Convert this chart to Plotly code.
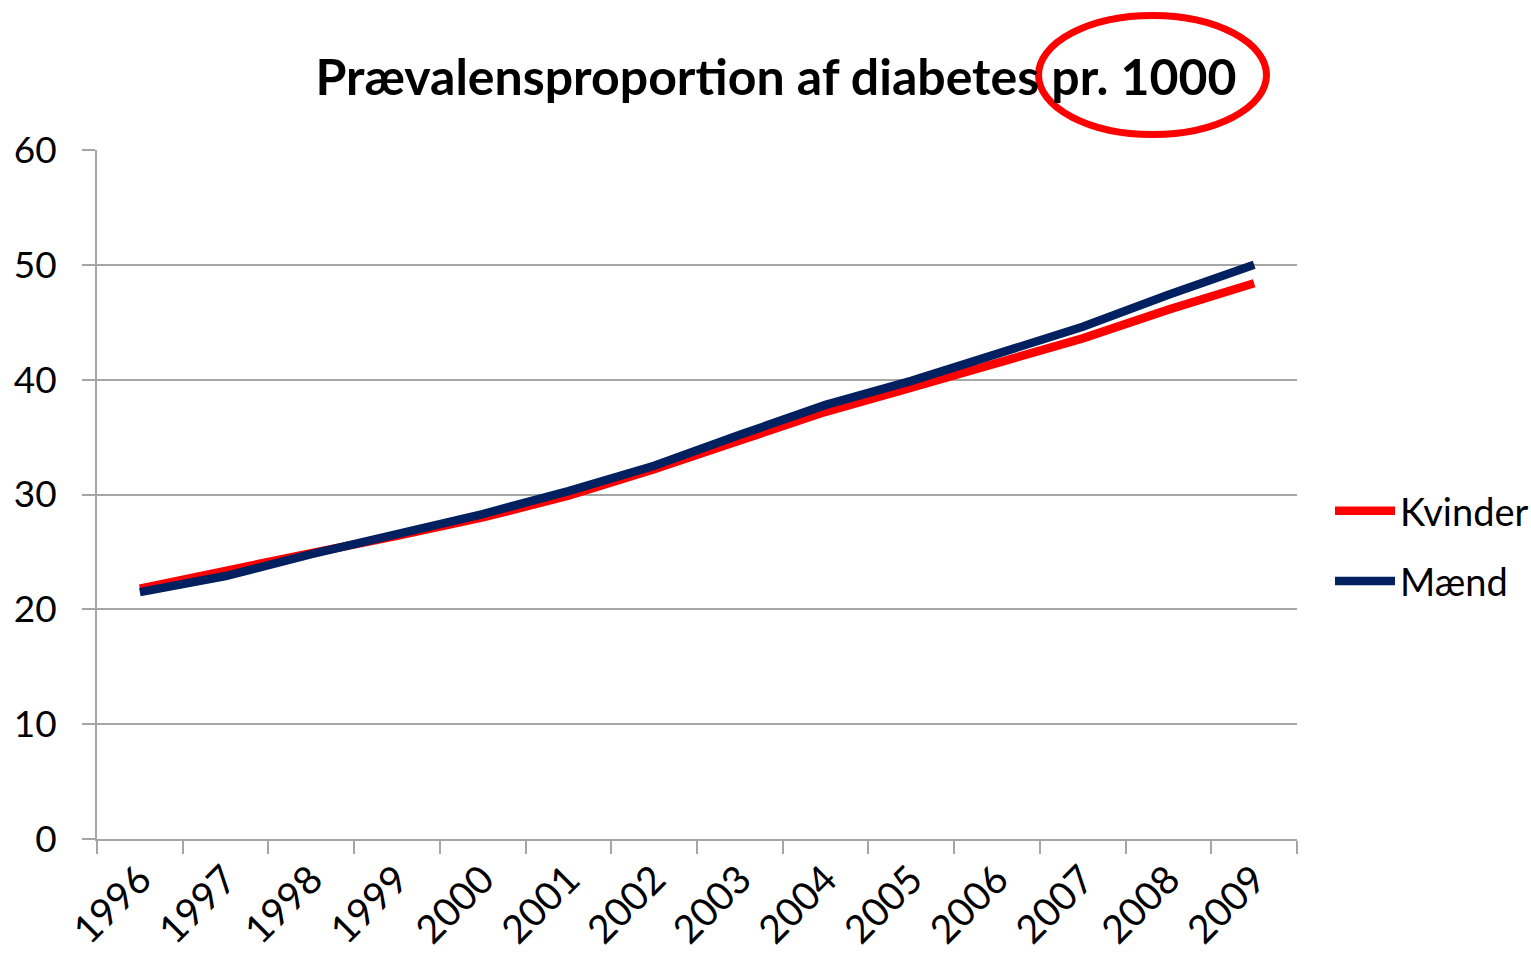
import plotly.graph_objects as go

years = ["1996", "1997", "1998", "1999", "2000", "2001", "2002",
         "2003", "2004", "2005", "2006", "2007", "2008", "2009"]
kvinder = [21.8, 23.4, 24.9, 26.4, 28.0, 29.9, 32.2, 34.7, 37.2, 39.3, 41.4, 43.6, 46.1, 48.4]
maend = [21.5, 22.9, 24.8, 26.5, 28.3, 30.3, 32.5, 35.2, 37.8, 39.9, 42.2, 44.6, 47.4, 50.0]
yticks = [0, 10, 20, 30, 40, 50, 60]

FONT = "Lato"
GRID = "#A6A6A6"

fig = go.Figure()
fig.add_trace(go.Scatter(x=years, y=kvinder, name="Kvinder", mode="lines",
                         legendgroup="k",
                         line=dict(color="#FF0000", width=8.5)))
fig.add_trace(go.Scatter(x=years, y=maend, name="Mænd", mode="lines",
                         legendgroup="m",
                         line=dict(color="#002060", width=8.5)))

fig.update_layout(
    template="none",
    width=1531, height=957,
    margin=dict(l=97, r=234, t=150, b=118),
    paper_bgcolor="white", plot_bgcolor="white",
    font=dict(family=FONT, color="black", size=30),
    title=dict(text="<b>Prævalensproportion af diabetes pr. 1000</b>",
               x=776/1531, xanchor="center", xref="container",
               y=1-77/957, yanchor="middle", yref="container",
               font=dict(family=FONT, size=50, color="black")),
    showlegend=True,
    legend=dict(xref="container", x=1330/1531, xanchor="left",
                yref="container", y=1-546/957, yanchor="middle",
                font=dict(family=FONT, size=38, color="black"),
                traceorder="grouped",
                itemwidth=60, tracegroupgap=18, bgcolor="rgba(0,0,0,0)",
                borderwidth=0),
    xaxis=dict(type="category", tickson="boundaries", ticks="outside", ticklen=13,
               tickcolor=GRID, tickwidth=2, showgrid=False, automargin=False,
               showline=True, linecolor=GRID, linewidth=2, zeroline=False,
               tickangle=-45, tickfont=dict(family=FONT, size=39),
               range=[-0.5, 13.5]),
    yaxis=dict(range=[0, 60], tickvals=yticks, ticks="outside", ticklen=13,
               tickcolor=GRID, tickwidth=2, showgrid=True, gridcolor=GRID, gridwidth=2,
               showline=True, linecolor=GRID, linewidth=2, zeroline=False,
               automargin=False,
               tickfont=dict(family=FONT, size=37), ticklabelstandoff=18),
)

fig.add_shape(type="circle", xref="paper", yref="paper",
              x0=(1038.5-97)/1200, x1=(1266.5-97)/1200,
              y0=(839-134.5)/689, y1=(839-15.5)/689,
              line=dict(color="#FF0000", width=7))

fig.write_html("out.html", config={"displayModeBar": False},
               post_script="document.body.style.margin='0px';")
